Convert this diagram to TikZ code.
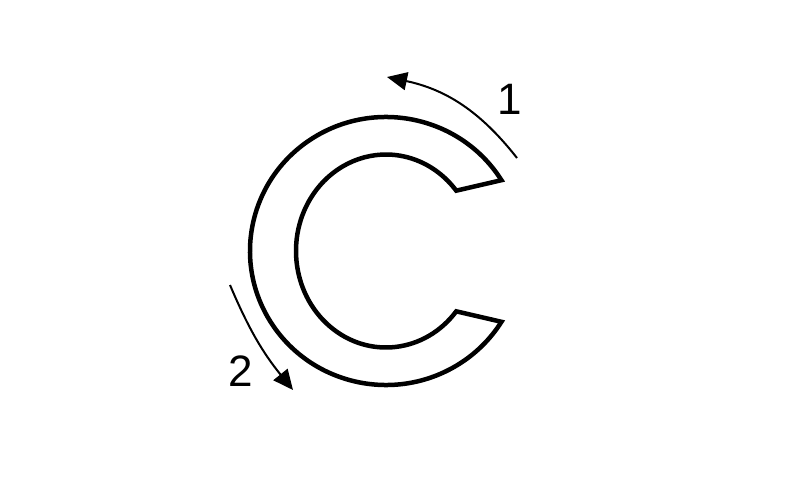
\documentclass[tikz,border=0pt]{standalone}
\usepackage{fontspec}
\setmainfont{Liberation Sans}
\usetikzlibrary{arrows.meta,calc}

\begin{document}
\begin{tikzpicture}
[x=1pt, y=1pt, every node/.style={font=\fontsize{44}{44}\selectfont, inner sep=0pt},
 letter/.style={line width=4.5pt, line join=miter},
 turn/.style={line width=2pt, -{Triangle[length=20pt,width=18pt]}}]
\useasboundingbox (0,0) rectangle (800,480);
% the letter C
\draw [letter] (386,229) ++(31.9:136 and 134)
      arc [start angle=31.9, end angle=328.1, x radius=136, y radius=134]
      -- ($(386,229)+(-38.7:90 and 96.5)$)
      arc [start angle=321.3, end angle=38.7, x radius=90, y radius=96.5]
      -- cycle;
% stroke direction
\coordinate (s1) at (517,322);
\coordinate (e1) at (387,403);
\coordinate (s2) at (230,195);
\coordinate (e2) at (293,90);
\node (n1) at (510,381) {1};
\node (n2) at (241,109) {2};
\draw [turn] (s1) to [bend right=20] (e1);
\draw [turn] (s2) to [bend right=8] (e2);
\end{tikzpicture}
\end{document}
